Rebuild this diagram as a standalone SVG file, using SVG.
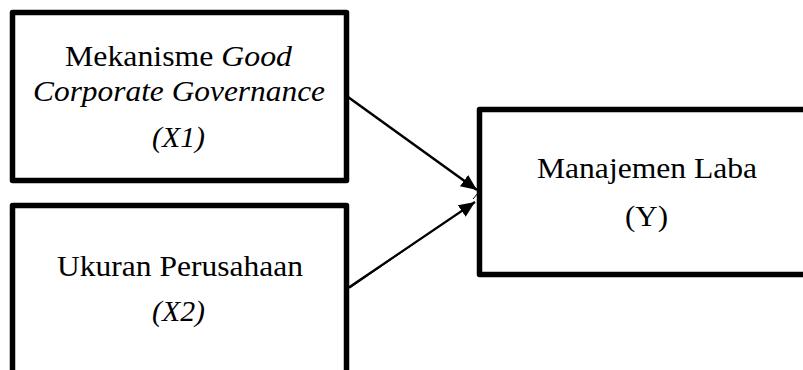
<svg xmlns="http://www.w3.org/2000/svg" width="803" height="370" viewBox="0 0 803 370">
<style>
.box{fill:#fff;stroke:#000;stroke-width:5.5;stroke-linejoin:round}
.c{stroke:#000;fill:none}
</style>
<defs>
<marker id="ah" markerUnits="userSpaceOnUse" markerWidth="18" markerHeight="14" refX="16" refY="7" orient="auto">
<path d="M0,0 L16,7 L0,14 Z" fill="#000"/>
</marker>
</defs>
<rect width="803" height="370" fill="#fff"/>
<g id="x1" font-family="Liberation Serif, Times New Roman, serif" font-size="29" fill="#000">
<rect class="box" x="12.5" y="12.5" width="334" height="168"/>
<text x="65" y="66" textLength="227" lengthAdjust="spacingAndGlyphs">Mekanisme <tspan font-style="italic">Good</tspan></text>
<text x="33" y="101" font-style="italic" textLength="292" lengthAdjust="spacingAndGlyphs">Corporate Governance</text>
<text x="152" y="147" font-style="italic" textLength="53" lengthAdjust="spacingAndGlyphs">(X1)</text>
</g>
<g id="x2" font-family="Liberation Serif, Times New Roman, serif" font-size="29" fill="#000">
<rect class="box" x="12.5" y="205.5" width="334" height="190"/>
<text x="57" y="276" textLength="246" lengthAdjust="spacingAndGlyphs">Ukuran Perusahaan</text>
<text x="152" y="321" font-style="italic" textLength="53" lengthAdjust="spacingAndGlyphs">(X2)</text>
</g>
<g id="y" font-family="Liberation Serif, Times New Roman, serif" font-size="29" fill="#000">
<rect class="box" x="479.5" y="109.5" width="360" height="165"/>
<text x="537" y="178" textLength="220" lengthAdjust="spacingAndGlyphs">Manajemen Laba</text>
<text x="625" y="226" textLength="43" lengthAdjust="spacingAndGlyphs">(Y)</text>
</g>
<g id="connectors">
<line class="c" stroke-width="2.5" x1="348" y1="97" x2="477" y2="190" marker-end="url(#ah)"/>
<line class="c" stroke-width="2.2" x1="348" y1="288" x2="475" y2="202" marker-end="url(#ah)"/>
<line class="c" stroke-width="1" x1="350" y1="288" x2="470" y2="205"/>
<line class="c" stroke-width="1" x1="473" y1="199" x2="478" y2="193"/>
</g>
</svg>
